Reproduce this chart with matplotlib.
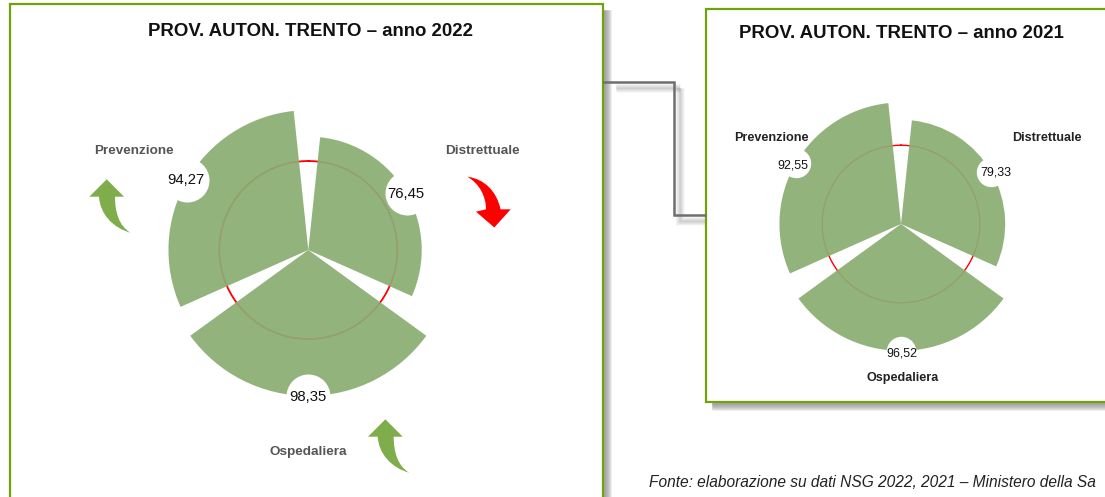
import numpy as np
import matplotlib
matplotlib.use("Agg")
import matplotlib.pyplot as plt
from matplotlib.patches import PathPatch, Rectangle
from matplotlib.path import Path

plt.rcParams['font.family'] = ['Liberation Sans', 'DejaVu Sans']

W, H = 1105, 497

categories = ["Distrettuale", "Ospedaliera", "Prevenzione"]
angles_deg = [60, 180, 300]
values_2022 = [76.45, 98.35, 94.27]
values_2021 = [79.33, 96.52, 92.55]
labels_2022 = ["76,45", "98,35", "94,27"]
labels_2021 = ["79,33", "96,52", "92,55"]
threshold = 60
r_max = 110
bar_width_deg = 108

BAR = "#8BAD73"
FRAME = "#6FA30A"
GREEN_ARROW = "#7FAD4C"

fig = plt.figure(figsize=(W / 100, H / 100), dpi=100)
bg = fig.add_axes([0, 0, 1, 1], zorder=0)
bg.set_xlim(0, W)
bg.set_ylim(H, 0)
bg.axis("off")


def put_text(x, y, s, **kw):
    fig.text(x / W, 1 - y / H, s, ha=kw.pop("ha", "center"), va="center", **kw)


def shadow_line(xs, ys, offset, reach, alpha, steps=8):
    # soft grey shadow, drawn as stacked faint lines
    for i in range(steps):
        k = reach * 0.72 * (i + 1) / steps
        bg.plot(np.array(xs) + offset, np.array(ys) + offset, color="black", alpha=alpha,
                lw=k, solid_capstyle="butt", solid_joinstyle="miter", zorder=1)


def panel(x0, y0, x1, y1):
    shadow_line([x1, x1, x0 + 4], [y0 + 4, y1, y1], 2, 14, 0.05)
    bg.add_patch(Rectangle((x0, y0), x1 - x0, y1 - y0, fc="white", ec=FRAME, lw=1.6, zorder=3))


def radar(cx, cy, px_per_unit, values, labels, dot_px, font, offsets, line_w):
    half = r_max * px_per_unit
    ax = fig.add_axes([(cx - half) / W, 1 - (cy + half) / H, 2 * half / W, 2 * half / H],
                      projection="polar", zorder=1)
    ax.set_theta_zero_location("N")
    ax.set_theta_direction(-1)
    ax.set_ylim(0, r_max)
    ax.axis("off")
    ax.patch.set_alpha(0)

    t = np.radians(np.arange(0, 361, 2))
    ax.plot(t, np.full(t.shape, threshold), color="red", lw=line_w, zorder=1)
    theta = np.radians(angles_deg)
    ax.bar(theta, values, width=np.radians(bar_width_deg), color=BAR, alpha=0.93, lw=0, zorder=2)

    size = (2 * dot_px * 0.72) ** 2
    ax.scatter(theta, values, s=size, color="white", lw=0, zorder=3, clip_on=False)
    for th, v, lab, off in zip(theta, values, labels, offsets):
        ax.annotate(lab, (th, v), xytext=off, textcoords="offset pixels", ha="center", va="center",
                    fontsize=font, color="#111111", zorder=4, annotation_clip=False)


def curved_arrow(dx, dy, color):
    # green arrow outline, pixel coordinates for the one next to Prevenzione
    verts = [(106.7, 179.3), (89.3, 196.7), (99, 196.7),
             (100, 214), (113, 228), (130.5, 232.7),
             (119, 226), (115, 212), (115, 196.7),
             (124, 196.7), (106.7, 179.3)]
    codes = [Path.MOVETO, Path.LINETO, Path.LINETO,
             Path.CURVE4, Path.CURVE4, Path.CURVE4,
             Path.CURVE4, Path.CURVE4, Path.CURVE4,
             Path.LINETO, Path.CLOSEPOLY]
    verts = [(x + dx, y + dy) for x, y in verts]
    bg.add_patch(PathPatch(Path(verts, codes), fc=color, ec="none", zorder=5))


panel(10, 4, 603, 510)
panel(706, 9, 1120, 402)

# connector between the two panels
conn_x = [604, 674, 674, 705]
conn_y = [82, 82, 215, 215]
shadow_line(conn_x[1:], conn_y[1:], 6, 9, 0.025)
shadow_line([610, 674], [82, 82], 6, 9, 0.025)
bg.plot(conn_x, conn_y, color="#6E6E6E", lw=1.8, solid_joinstyle="miter", zorder=4)

radar(308.3, 250, 89 / threshold, values_2022, labels_2022, 22, 10.7,
      [(-1, -1), (0, -1), (-1, 0)], 1.3)
radar(901, 224, 78.8 / threshold, values_2021, labels_2021, 14.7, 8.9,
      [(5, -1), (1, -3), (-3, -2)], 1.0)

curved_arrow(0, 0, GREEN_ARROW)
curved_arrow(278.7, 240, GREEN_ARROW)

# red arrow pointing down
red_v = [(467.3, 176.7), (485, 179), (497, 192), (500.5, 209.3),
         (510.7, 209.3), (494.3, 227.5), (476, 211.7), (486, 209.3),
         (486, 197), (480, 184), (467.3, 176.7), (467.3, 176.7)]
red_c = [Path.MOVETO, Path.CURVE4, Path.CURVE4, Path.CURVE4,
         Path.LINETO, Path.LINETO, Path.LINETO, Path.LINETO,
         Path.CURVE4, Path.CURVE4, Path.CURVE4, Path.CLOSEPOLY]
bg.add_patch(PathPatch(Path(red_v, red_c), fc="#FF0000", ec="none", zorder=5))

put_text(310.5, 31, "PROV. AUTON. TRENTO – anno 2022", fontsize=13.4, fontweight="bold", color="#111111")
put_text(901.5, 33.5, "PROV. AUTON. TRENTO – anno 2021", fontsize=13.4, fontweight="bold", color="#111111")

put_text(134, 150.5, categories[2], fontsize=9.7, fontweight="bold", color="#555555")
put_text(482, 150.5, categories[0], fontsize=9.7, fontweight="bold", color="#555555")
put_text(308, 452.5, categories[1], fontsize=9.7, fontweight="bold", color="#555555")
put_text(771.5, 138, categories[2], fontsize=9.1, fontweight="bold", color="#222222")
put_text(1046.5, 138, categories[0], fontsize=9.1, fontweight="bold", color="#222222")
put_text(903, 377.5, categories[1], fontsize=9.1, fontweight="bold", color="#222222")

# the reference is cropped here, only the visible part of the source line is kept
put_text(649, 482.5, "Fonte: elaborazione su dati NSG 2022, 2021 – Ministero della Sa",
         ha="left", fontsize=11.2, style="italic", color="#222222")

fig.savefig("out.png", dpi=100)
